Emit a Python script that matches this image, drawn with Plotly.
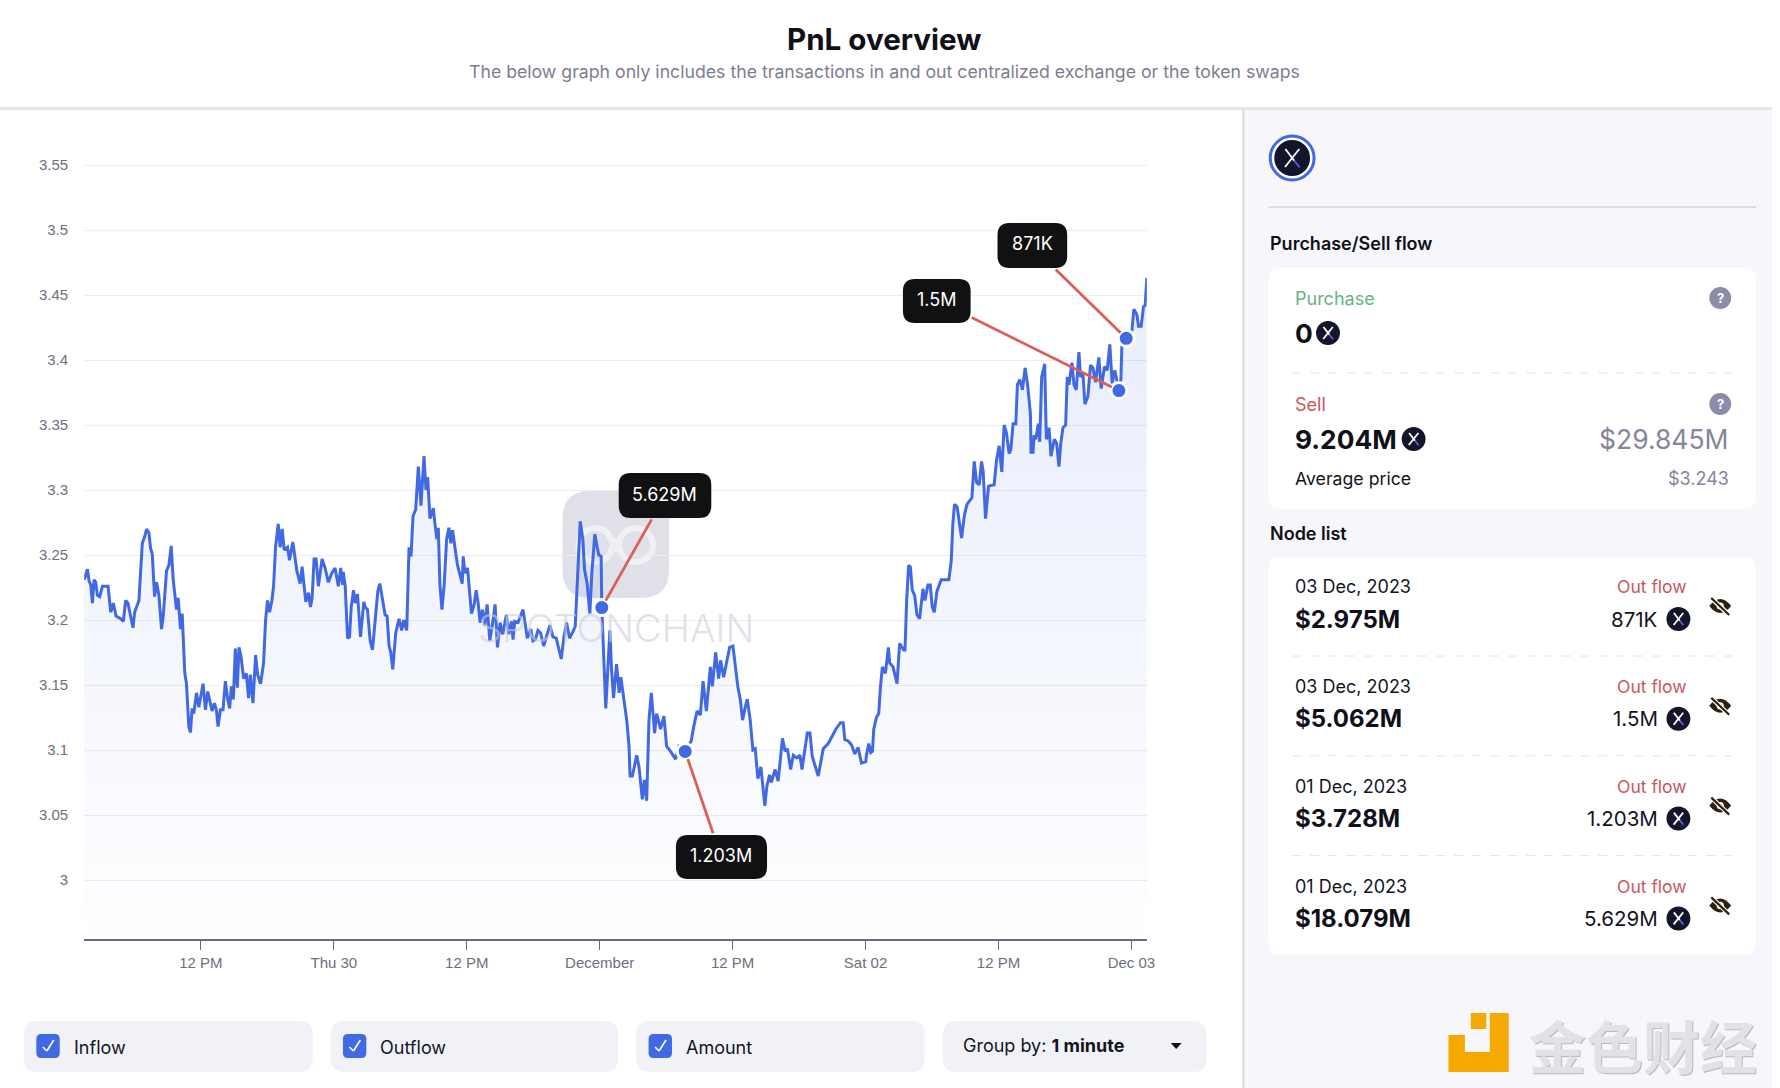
import pandas as pd
import plotly.graph_objects as go

W, H = 1780, 1088

# Hours since 2023-11-29 00:00
hours = [
1.46,1.61,1.76,1.91,2.06,2.21,2.36,2.51,2.66,2.87,
3.11,3.41,3.62,3.86,4.10,4.34,4.76,5.00,5.21,5.42,
5.87,6.02,6.41,6.71,6.92,7.10,7.31,7.46,7.61,7.82,
8.00,8.21,8.45,8.60,8.90,9.11,9.32,9.50,9.80,9.95,
10.16,10.31,10.55,10.70,10.91,11.06,11.21,11.36,11.60,11.81,
12.02,12.20,12.41,12.62,13.01,13.22,13.40,13.55,13.76,14.00,
14.21,14.42,14.60,14.75,14.93,15.11,15.29,15.44,15.62,15.86,
16.10,16.31,16.46,16.70,16.94,17.12,17.39,17.66,17.84,18.02,
18.20,18.41,18.56,18.74,18.98,19.16,19.34,19.52,19.82,20.00,
20.30,20.66,20.96,21.14,21.47,21.71,21.89,22.04,22.22,22.40,
22.61,22.94,23.21,23.51,23.81,24.11,24.41,24.62,24.80,
24.85,25.03,25.24,25.42,25.57,25.78,25.93,26.14,26.41,26.71,
26.83,27.04,27.28,27.49,27.73,27.97,28.15,28.42,28.63,28.81,
28.99,29.14,29.32,29.59,29.89,30.13,30.31,30.58,30.79,30.97,
31.15,31.39,31.63,31.87,32.14,32.32,32.47,32.68,32.98,33.13,
33.31,33.43,33.58,33.76,33.97,34.18,34.39,34.57,34.72,34.93,
35.17,35.35,35.59,35.68,35.83,36.07,36.28,36.43,36.67,36.85,
37.03,37.21,37.42,37.63,37.84,38.08,38.29,38.56,38.77,39.01,
39.25,39.58,39.79,40.03,40.18,40.33,40.63,41.08,41.47,41.77,
41.98,42.19,42.43,42.67,42.94,43.33,43.51,43.78,44.08,44.53,
44.77,45.01,45.28,45.58,45.79,45.97,46.24,46.48,46.63,46.87,
47.11,47.29,47.56,47.71,47.92,48.13,48.19,
48.55,48.71,48.92,49.07,49.25,49.52,49.76,49.91,50.21,50.44,
50.65,50.74,50.95,51.10,51.34,51.55,51.85,52.03,52.24,52.45,
52.66,52.96,53.14,53.50,53.80,54.04,54.40,54.85,55.15,55.72,
56.26,56.49,56.79,57.09,57.33,57.63,57.99,58.17,58.47,58.74,
58.92,59.19,59.43,59.73,60.03,60.24,60.48,60.69,60.90,61.14,
61.32,61.59,61.83,62.04,62.28,62.55,62.91,63.09,63.33,63.48,
63.84,64.11,64.50,64.74,64.95,65.24,65.48,65.78,66.08,66.26,
66.50,66.74,66.98,67.19,67.73,68.18,68.63,68.93,69.32,
69.74,69.98,70.13,70.43,70.73,71.03,71.33,71.63,72.02,72.08,
72.29,72.47,72.62,72.74,72.98,73.19,73.34,73.52,73.79,74.06,
74.18,74.48,74.84,75.08,75.44,75.56,75.71,75.89,76.04,76.22,
76.43,76.64,76.88,77.03,77.18,77.36,77.63,77.84,78.02,78.20,
78.44,78.83,79.13,79.52,79.73,79.88,80.03,80.27,80.48,
80.67,80.91,81.15,81.60,81.81,82.02,82.26,82.47,82.62,82.83,
83.10,83.61,83.82,84.06,84.30,84.51,84.72,84.96,85.11,85.32,
85.56,85.71,85.92,86.16,86.40,86.64,86.88,86.94,87.12,87.21,
87.36,87.60,87.72,87.90,88.17,88.32,88.56,88.74,89.04,89.25,
89.46,89.61,89.82,90.06,90.21,90.36,90.63,90.81,91.02,91.26,
91.41,91.62,91.80,92.07,92.31,92.52,92.76,93.06,93.27,93.57,
93.81,94.05,94.26,94.50,94.77,94.87,95.05,95.14,95.53,95.89,
96.04,96.22,96.49,96.64,96.88,97.09,97.24,97.39,
]

prices = [
3.231,3.235,3.239,3.230,3.227,3.213,3.231,3.229,3.219,3.218,
3.226,3.226,3.226,3.206,3.213,3.203,3.201,3.199,3.215,3.213,
3.194,3.206,3.215,3.259,3.264,3.270,3.267,3.255,3.251,3.218,
3.229,3.219,3.193,3.203,3.238,3.242,3.257,3.231,3.208,3.217,
3.193,3.205,3.159,3.151,3.118,3.1135,3.132,3.128,3.144,3.133,
3.142,3.151,3.131,3.145,3.130,3.136,3.131,3.118,3.131,3.131,
3.153,3.139,3.132,3.149,3.139,3.178,3.148,3.179,3.172,3.155,
3.159,3.140,3.158,3.136,3.173,3.158,3.151,3.167,3.200,3.215,
3.206,3.215,3.226,3.256,3.274,3.256,3.270,3.254,3.256,3.246,
3.260,3.238,3.228,3.241,3.214,3.221,3.210,3.217,3.247,3.247,
3.226,3.247,3.240,3.229,3.236,3.240,3.226,3.240,3.227,
3.237,3.226,3.186,3.187,3.210,3.223,3.213,3.220,3.187,3.214,
3.210,3.208,3.184,3.177,3.203,3.222,3.228,3.216,3.204,3.203,
3.180,3.175,3.162,3.190,3.201,3.192,3.200,3.192,3.256,3.249,
3.280,3.285,3.318,3.288,3.326,3.300,3.310,3.278,3.286,3.274,
3.262,3.271,3.227,3.208,3.228,3.262,3.271,3.259,3.269,3.256,
3.242,3.236,3.228,3.249,3.236,3.240,3.216,3.205,3.212,3.223,
3.213,3.198,3.208,3.196,3.212,3.184,3.195,3.212,3.179,3.198,
3.189,3.204,3.189,3.199,3.185,3.199,3.198,3.208,3.186,3.193,
3.184,3.185,3.192,3.190,3.180,3.191,3.196,3.187,3.186,3.170,
3.187,3.198,3.186,3.191,3.195,3.227,3.276,3.262,3.239,3.228,
3.205,3.236,3.266,3.259,3.250,3.249,3.2096,
3.132,3.156,3.192,3.162,3.140,3.166,3.144,3.156,3.139,3.123,
3.103,3.080,3.080,3.087,3.096,3.087,3.062,3.077,3.061,3.123,
3.144,3.113,3.128,3.116,3.126,3.103,3.099,3.093,3.103,3.0989,
3.107,3.118,3.130,3.127,3.153,3.130,3.164,3.149,3.175,3.155,
3.169,3.156,3.167,3.179,3.180,3.164,3.148,3.139,3.123,3.133,
3.139,3.123,3.100,3.101,3.078,3.087,3.057,3.072,3.081,3.075,
3.085,3.076,3.109,3.099,3.101,3.085,3.096,3.094,3.096,3.085,
3.098,3.113,3.113,3.095,3.080,3.101,3.105,3.110,3.116,
3.121,3.121,3.108,3.107,3.104,3.097,3.102,3.090,3.091,3.096,
3.105,3.098,3.099,3.116,3.125,3.128,3.148,3.164,3.159,3.179,
3.167,3.164,3.151,3.182,3.177,3.177,3.215,3.242,3.241,3.223,
3.219,3.204,3.201,3.213,3.224,3.215,3.227,3.227,3.210,3.206,
3.222,3.231,3.231,3.231,3.245,3.274,3.289,3.287,3.274,
3.263,3.280,3.289,3.294,3.322,3.306,3.304,3.322,3.314,3.278,
3.303,3.304,3.323,3.334,3.314,3.350,3.344,3.328,3.331,3.351,
3.351,3.381,3.385,3.377,3.394,3.380,3.359,3.329,3.329,3.342,
3.339,3.351,3.337,3.387,3.397,3.339,3.348,3.326,3.339,3.336,
3.318,3.335,3.348,3.350,3.387,3.381,3.398,3.381,3.377,3.406,
3.387,3.390,3.366,3.372,3.396,3.394,3.383,3.402,3.378,3.395,
3.392,3.412,3.382,3.392,3.380,3.3765,3.385,3.412,3.4167,3.421,
3.422,3.439,3.435,3.426,3.426,3.441,3.442,3.463,
]

node_hours = [48.19, 55.72, 94.87, 95.53]
node_prices = [3.2096, 3.0989, 3.3765, 3.4167]
node_labels = ["5.629M", "1.203M", "1.5M", "871K"]

y_ticks = [3, 3.05, 3.1, 3.15, 3.2, 3.25, 3.3, 3.35, 3.4, 3.45, 3.5, 3.55]
y_tick_labels = ["3", "3.05", "3.1", "3.15", "3.2", "3.25", "3.3", "3.35", "3.4", "3.45", "3.5", "3.55"]
x_ticks = ["2023-11-29 12:00", "2023-11-30 00:00", "2023-11-30 12:00", "2023-12-01 00:00",
           "2023-12-01 12:00", "2023-12-02 00:00", "2023-12-02 12:00", "2023-12-03 00:00"]
x_tick_labels = ["12 PM", "Thu 30", "12 PM", "December", "12 PM", "Sat 02", "12 PM", "Dec 03"]

list_dates = ["03 Dec, 2023", "03 Dec, 2023", "01 Dec, 2023", "01 Dec, 2023"]
list_values = ["$2.975M", "$5.062M", "$3.728M", "$18.079M"]
list_amounts = ["871K", "1.5M", "1.203M", "5.629M"]

BLUE = "#4169e1"
DARK = "#14141f"
GREY = "#85859b"
RED = "#c9565d"
BASE = pd.Timestamp("2023-11-29")


def stamp(h):
    return (BASE + pd.Timedelta(hours=h)).strftime("%Y-%m-%d %H:%M:%S")


times = [stamp(h) for h in hours]
node_times = [stamp(h) for h in node_hours]

fig = go.Figure()
fig.add_trace(go.Scatter(
    x=times, y=prices, mode="lines", hoverinfo="skip", showlegend=False,
    line=dict(color=BLUE, width=3), fill="tozeroy",
    fillgradient=dict(type="vertical", start=2.9544, stop=3.47,
                      colorscale=[[0, "rgba(65,105,225,0.005)"], [1, "rgba(65,105,225,0.125)"]]),
))
fig.add_trace(go.Scatter(
    x=node_times, y=node_prices, mode="markers", hoverinfo="skip", showlegend=False,
    marker=dict(size=16, color=BLUE, line=dict(color="white", width=3)),
))

shapes, notes = [], []


def px(x):
    return x / W


def py(y):
    return 1 - y / H


def rrect(x0, y0, x1, y1, r, fill, layer="below"):
    X0, X1, Y0, Y1 = px(x0), px(x1), py(y0), py(y1)
    rx, ry = r / W, r / H
    p = (f"M {X0+rx},{Y0} L {X1-rx},{Y0} Q {X1},{Y0} {X1},{Y0-ry} L {X1},{Y1+ry} "
         f"Q {X1},{Y1} {X1-rx},{Y1} L {X0+rx},{Y1} Q {X0},{Y1} {X0},{Y1+ry} "
         f"L {X0},{Y0-ry} Q {X0},{Y0} {X0+rx},{Y0} Z")
    shapes.append(dict(type="path", path=p, xref="paper", yref="paper", fillcolor=fill,
                       line=dict(width=0), layer=layer))


def rect(x0, y0, x1, y1, fill, layer="below"):
    shapes.append(dict(type="rect", xref="paper", yref="paper", x0=px(x0), x1=px(x1), y0=py(y0), y1=py(y1),
                       fillcolor=fill, line=dict(width=0), layer=layer))


def circle(cx, cy, r, fill, line=None, lw=0, layer="below"):
    shapes.append(dict(type="circle", xref="paper", yref="paper", x0=px(cx-r), x1=px(cx+r), y0=py(cy-r), y1=py(cy+r),
                       fillcolor=fill, line=dict(width=lw, color=line or fill), layer=layer))


def seg(x0, y0, x1, y1, color, w=1, dash="solid", layer="below"):
    shapes.append(dict(type="line", xref="paper", yref="paper", x0=px(x0), x1=px(x1), y0=py(y0), y1=py(y1),
                       line=dict(color=color, width=w, dash=dash), layer=layer))


def poly(points, fill, layer="below"):
    p = "M " + " L ".join(f"{px(a)},{py(b)}" for a, b in points) + " Z"
    shapes.append(dict(type="path", path=p, xref="paper", yref="paper", fillcolor=fill,
                       line=dict(width=0), layer=layer))


def text(x, y, s, size=18, color=DARK, anchor="left", weight=400, family="Inter"):
    notes.append(dict(text=s, xref="paper", yref="paper", x=px(x), y=py(y), xanchor=anchor, yanchor="middle",
                      showarrow=False, font=dict(size=size, color=color, family=family, weight=weight)))


def token(cx, cy, r=12):
    circle(cx, cy, r, "#14142b")
    seg(cx-0.38*r, cy-0.5*r, cx+0.12*r, cy+0.15*r, "white", 1.8)
    seg(cx+0.4*r, cy-0.5*r, cx-0.4*r, cy+0.5*r, "white", 1.8)
    seg(cx+0.12*r, cy+0.15*r, cx+0.42*r, cy+0.52*r, "#5b5fd6", 1.8)


def eye_off(cx, cy):
    c = "#2e2010"
    X0, X1 = px(cx-11), px(cx+11)
    Y = py(cy)
    dy = 7 / H
    p = f"M {X0},{Y} Q {px(cx)},{Y+2*dy} {X1},{Y} Q {px(cx)},{Y-2*dy} {X0},{Y} Z"
    shapes.append(dict(type="path", path=p, xref="paper", yref="paper", fillcolor=c, line=dict(width=0), layer="below"))
    circle(cx, cy, 3.6, "white")
    circle(cx, cy, 2, c)
    seg(cx-9, cy-8, cx+9, cy+9, "white", 4.5)
    seg(cx-9, cy-8, cx+9, cy+9, c, 2.2)


def help_icon(cx, cy):
    circle(cx, cy, 11, "#8c8ca8")
    text(cx, cy, "?", 13, "white", "center", 700)


# page structure
rect(1249, 109, W, H, "#f6f6fb")
rect(1248, 109, 1250, H, "#dcdce0")
rect(0, 107, W, 110, "#e6e6e9")

# header
text(888, 39.5, "PnL overview", 29.6, "#101018", "center", 700)
text(888, 72, "The below graph only includes the transactions in and out centralized exchange or the token swaps",
     17.7, "#7d7d90", "center", 400)

# watermark
rrect(565, 491, 672, 598, 28, "#e0e1e8")
rect(598, 538, 639, 552, "#f0f1f4")
circle(598, 545, 17, "#e0e1e8", "#f0f1f4", 6)
circle(639, 545, 17, "#e0e1e8", "#f0f1f4", 6)
text(619, 628, "SPOTONCHAIN", 38, "rgba(205,207,218,0.6)", "center", 300)

# side panel top
circle(1298, 158, 22, "white", BLUE, 3)
token(1298, 158, 18)
seg(1274, 207, 1764, 207, "#dcdce4", 2)
text(1274, 243, "Purchase/Sell flow", 18, "#101018", "left", 600)
rrect(1274, 268, 1764, 509, 12, "white")
text(1298.5, 298, "Purchase", 18, "#66b585")
help_icon(1728, 298)
text(1298.5, 333, "0", 26.3, "#101018", "left", 700)
token(1334, 333)
seg(1298, 373, 1740, 373, "#e4e4e8", 1, "dash")
text(1298.5, 404, "Sell", 18, RED)
help_icon(1728, 404)
text(1298.5, 439, "9.204M", 26.3, "#101018", "left", 700)
token(1420, 439)
text(1739, 439, "$29.845M", 26.5, GREY, "right")
text(1298.5, 479, "Average price", 17.7)
text(1739, 479, "$3.243", 18, GREY, "right")

# node list
text(1274, 533, "Node list", 18, "#101018", "left", 600)
rrect(1274, 557, 1764, 955, 12, "white")
for i in range(4):
    dy = 99.8 * i
    text(1298.5, 586.7 + dy, list_dates[i], 18)
    text(1298.5, 619 + dy, list_values[i], 24, "#101018", "left", 700)
    text(1697, 586.7 + dy, "Out flow", 17.5, RED, "right")
    text(1667, 619 + dy, list_amounts[i], 20.5, DARK, "right")
    token(1686, 619 + dy)
    eye_off(1728, 606 + dy)
    if i < 3:
        seg(1298, 656 + dy, 1740, 656 + dy, "#e4e4e8", 1, "dash")

# bottom controls
for x0, x1, lab in [(24, 314, "Inflow"), (332, 621, "Outflow"), (639, 929, "Amount")]:
    rrect(x0, 1021, x1, 1072, 14, "#f1f2f7")
    rrect(x0 + 12.5, 1034, x0 + 36, 1058, 5, BLUE)
    seg(x0 + 19, 1047, x0 + 23, 1051, "white", 1.6)
    seg(x0 + 23, 1051, x0 + 30, 1040, "white", 1.6)
    text(x0 + 48, 1047.5, lab, 18)
rrect(947, 1021, 1212, 1072, 14, "#f1f2f7")
text(965, 1045, "Group by: <b>1 minute</b>", 18)
poly([(1176, 1043), (1187, 1043), (1181.5, 1049)], "#101018")

# site logo
orange = "#f5a800"
poly([(1496.5, 1013), (1515.5, 1013), (1515.5, 1072), (1455, 1072), (1455, 1052), (1496.5, 1052)], orange)
rect(1455, 1035, 1471.5, 1052, orange)
rect(1477.5, 1013, 1493, 1029, orange)
text(1651, 1045, "金色财经", 57, "#b9b9bd", "center", 700, "Noto Sans CJK SC")
text(1650, 1044, "金色财经", 57, "#e2e2e5", "center", 700, "Noto Sans CJK SC")

# callouts: (label box x0,y0,x1,y1 and the connector's start on its edge)
boxes = [(621.5, 473, 714.5, 518, 655, 518), (679, 835, 770.5, 879, 716.4, 835),
         (907, 279, 975, 323, 975, 317), (1002, 223, 1072, 268, 1059, 268)]
node_px = [(604.3, 607.7), (688, 751.7), (1123.7, 390.7), (1131, 338.3)]
for i, (x0, y0, x1, y1, ex, ey) in enumerate(boxes):
    rrect(x0, y0, x1, y1, 12, "#111114", "above")
    text((x0 + x1) / 2, (y0 + y1) / 2 - 1.5, node_labels[i], 18, "white", "center")
    notes.append(dict(x=node_times[i], y=node_prices[i], xref="x", yref="y", text="", showarrow=True, arrowhead=0,
                      arrowcolor="#d9605a", arrowwidth=2.8, standoff=8, axref="pixel", ayref="pixel",
                      ax=ex - node_px[i][0], ay=ey - node_px[i][1]))

axis_font = dict(family="Liberation Sans", size=15, color="#6c6f80")
fig.update_layout(
    width=W, height=H, margin=dict(l=0, r=0, t=0, b=0, pad=0), autosize=False,
    paper_bgcolor="white", plot_bgcolor="rgba(0,0,0,0)", showlegend=False,
    shapes=shapes, annotations=notes,
    xaxis=dict(domain=[px(84.5), px(1152)], type="date", range=[stamp(1.46), stamp(97.39)],
               tickmode="array", tickvals=x_ticks, ticktext=x_tick_labels, tickfont=axis_font,
               ticks="outside", ticklen=9, tickcolor="#666a86", tickwidth=1,
               showline=True, linecolor="#666a86", linewidth=1.6, showgrid=False, zeroline=False),
    yaxis=dict(domain=[py(939.3), py(155)], range=[2.9544, 3.5577],
               tickmode="array", tickvals=y_ticks, ticktext=y_tick_labels, tickfont=axis_font,
               ticks="outside", ticklen=12, tickcolor="rgba(0,0,0,0)",
               showline=False, showgrid=True, gridcolor="#ececf1", gridwidth=1, zeroline=False),
)
fig.write_html("out.html", post_script="document.body.style.margin='0';", config={"displayModeBar": False})
